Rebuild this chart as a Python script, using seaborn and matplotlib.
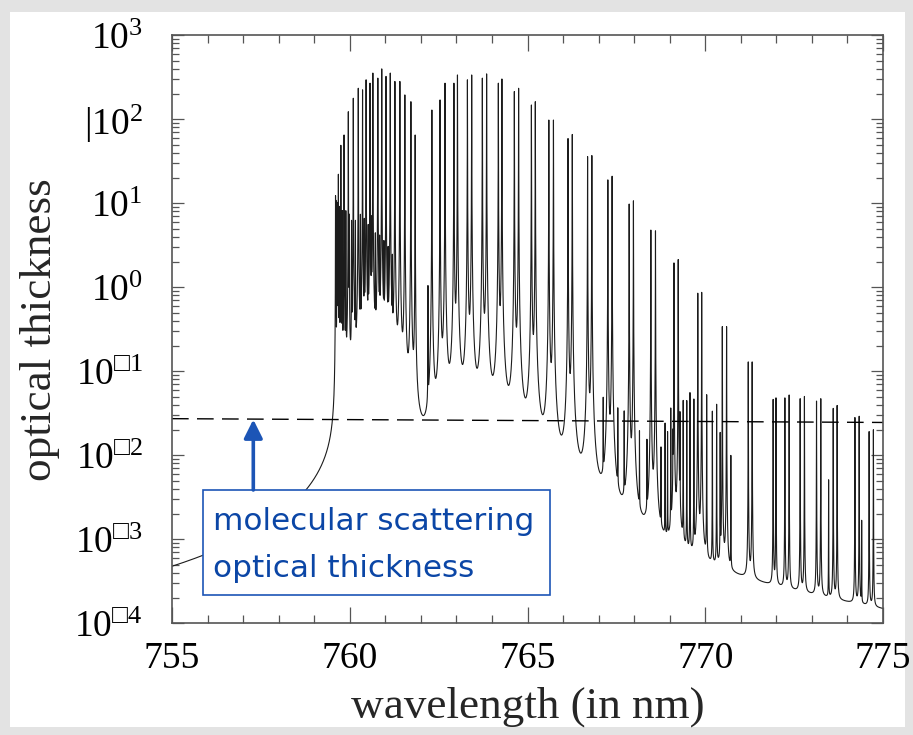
import numpy as np
import matplotlib
matplotlib.use("Agg")
import matplotlib.pyplot as plt
import seaborn as sns
from matplotlib.patches import Rectangle
from matplotlib.ticker import FixedLocator, MultipleLocator, LogLocator, NullFormatter

# ---------------- data ----------------
# O2 A-band: R branch (strong lines)
r_branch_nm = [759.61, 759.68, 759.75, 759.84, 759.96, 760.10, 760.24, 760.36, 760.46, 760.57,
               760.65, 760.79, 760.90, 761.02, 761.14, 761.27, 761.41, 761.55, 761.72, 761.84]
r_branch_peak = [10.5, 22, 49, 65, 123, 178, 234, 224, 295, 269,
                 355, 309, 398, 324, 355, 282, 282, 195, 162, 65]
# weaker lines folding back from the band head
head_nm = [759.60, 759.64, 759.66, 759.71, 759.79, 759.89, 759.99, 760.05, 760.16, 760.30,
           760.41, 760.52, 760.61, 760.72, 760.84, 760.96, 761.08, 761.20]
head_peak = [12, 9, 10, 9, 8, 8, 7, 6, 6, 7, 6, 5, 6, 4, 3.5, 3, 2.5, 2]
# P branch (pairs)
p_branch_nm = [762.20, 762.31, 762.54, 762.68, 762.93, 763.03, 763.31, 763.43, 763.73, 763.85,
               764.18, 764.28, 764.63, 764.75, 765.11, 765.22, 765.60, 765.73, 766.14, 766.26,
               766.69, 766.81, 767.26, 767.38, 767.86, 767.98, 768.47, 768.60, 769.12, 769.24,
               769.79, 769.90, 770.48, 770.60, 771.21, 771.32, 771.91, 771.99]
p_branch_peak = [1.0, 129, 170, 269, 269, 337, 295, 337, 309, 347,
                 269, 302, 214, 234, 148, 162, 98, 98, 59, 66,
                 36, 37, 19, 21, 9.8, 10.7, 4.8, 4.7, 1.95, 2.14,
                 0.85, 0.87, 0.34, 0.34, 0.129, 0.129, 0.046, 0.048]
# weak lines (isotopic / secondary band)
weak_nm = [767.13, 767.54, 767.72, 768.15, 768.36, 768.755, 768.87, 768.94, 769.03, 769.09,
           769.29, 769.38, 769.48, 769.57, 769.68, 770.04, 770.20, 770.32, 770.42, 770.72,
           772.24, 772.36, 772.67, 772.79, 773.13, 773.25, 773.47, 773.60, 773.71,
           774.21, 774.33, 774.40, 774.61, 774.73]
weak_peak = [0.042, 0.032, 0.030, 0.017, 0.013, 0.011, 0.023, 0.018, 0.035, 0.014,
             0.030, 0.044, 0.044, 0.055, 0.046, 0.052, 0.033, 0.040, 0.018, 0.0095,
             0.048, 0.052, 0.047, 0.050, 0.044, 0.047, 0.0049, 0.036, 0.039,
             0.028, 0.029, 0.0015, 0.019, 0.020]

# molecular (Rayleigh) scattering optical thickness
rayleigh_nm = [755.0, 775.0]
rayleigh_tau = [0.0273, 0.0246]

x_ticks = [755, 760, 765, 770, 775]
y_ticks = [1e-4, 1e-3, 1e-2, 1e-1, 1e0, 1e1, 1e2, 1e3]
y_ticklabels = ["$10^{\u25a14}$", "$10^{\u25a13}$", "$10^{\u25a12}$", "$10^{\u25a11}$",
                "$10^{0}$", "$10^{1}$", "$|10^{2}$", "$10^{3}$"]
annotation_lines = ["molecular scattering", "optical thickness"]

# ---------------- style ----------------
HALF_WIDTH = 0.0016   # Lorentz half width of the drawn lines (nm)
BLUE_EDGE = "#1c55b6"
BLUE_TEXT = "#0b46a6"

sns.set_theme(style="ticks")
plt.rcParams["font.family"] = ["Liberation Serif", "DejaVu Serif"]
plt.rcParams["mathtext.fontset"] = "custom"
plt.rcParams["mathtext.rm"] = "Liberation Serif"
plt.rcParams["mathtext.it"] = "Liberation Serif:italic"
plt.rcParams["mathtext.bf"] = "Liberation Serif:bold"

W, H = 913, 735
fig = plt.figure(figsize=(W / 100, H / 100), dpi=100, facecolor="#e3e3e3")
bg = Rectangle((10 / W, 8 / H), (905 - 10) / W, (723 - 8) / H,
               transform=fig.transFigure, facecolor="white", edgecolor="none", zorder=-10)
fig.add_artist(bg)
ax = fig.add_axes([172 / W, 1 - 623.3 / H, (883 - 172) / W, (623.3 - 35.3) / H])
ax.set_facecolor("white")

# spectrum built from the line list
lines_nm = np.array(r_branch_nm + head_nm + p_branch_nm + weak_nm)
lines_pk = np.array(r_branch_peak + head_peak + p_branch_peak + weak_peak)
wl = np.union1d(np.arange(755.0, 775.0001, 0.0004), lines_nm)
tau = np.zeros_like(wl)
for c, a in zip(lines_nm, lines_pk):
    tau += a * HALF_WIDTH ** 2 / ((wl - c) ** 2 + HALF_WIDTH ** 2)

sns.lineplot(x=wl, y=tau, ax=ax, color="#1c1c1c", linewidth=0.8, estimator=None, sort=False)
sns.lineplot(x=rayleigh_nm, y=rayleigh_tau, ax=ax, color="black", linewidth=1.0,
             estimator=None)
ax.lines[-1].set_linestyle((0, (12, 6)))

ax.set_yscale("log")
ax.set_xlim(755, 775)
ax.set_ylim(1e-4, 1e3)

ax.xaxis.set_major_locator(FixedLocator(x_ticks))
ax.xaxis.set_minor_locator(MultipleLocator(1))
ax.set_xticklabels([str(t) for t in x_ticks])
ax.yaxis.set_major_locator(FixedLocator(y_ticks))
ax.yaxis.set_minor_locator(LogLocator(base=10, subs=np.arange(2, 10), numticks=20))
ax.yaxis.set_minor_formatter(NullFormatter())
ax.set_yticklabels(y_ticklabels)

spine_c = "#555555"
for s in ax.spines.values():
    s.set_color(spine_c)
    s.set_linewidth(1.2)
ax.tick_params(which="both", direction="in", top=True, right=True, color=spine_c,
               labelcolor="black", labelsize=27, width=0.9)
ax.tick_params(axis="x", which="major", length=11.5, pad=13)
ax.tick_params(axis="x", which="minor", length=5.8)
ax.tick_params(axis="y", which="major", length=8.6, pad=21)
ax.tick_params(axis="y", which="minor", length=5)

ax.set_xlabel("wavelength (in nm)", fontsize=32.5)
ax.set_ylabel("optical thickness", fontsize=32.5)
ax.xaxis.set_label_coords(0.5, (623.3 - 687) / 588)
ax.yaxis.set_label_coords((60 - 172) / 711, 0.5)

# annotation box
bx0, bx1 = (202.7 - 172) / 711, (550 - 172) / 711
by0, by1 = (623.3 - 595) / 588, (623.3 - 490) / 588
ax.add_patch(Rectangle((bx0, by0), bx1 - bx0, by1 - by0, transform=ax.transAxes,
                       facecolor="white", edgecolor=BLUE_EDGE, linewidth=1.2, zorder=5))
ax.text((212.7 - 172) / 711, (623.3 - 530) / 588, annotation_lines[0], transform=ax.transAxes,
        family="DejaVu Sans", fontsize=22.4, color=BLUE_TEXT, va="baseline", ha="left", zorder=6)
ax.text((212.7 - 172) / 711, (623.3 - 576.7) / 588, annotation_lines[1], transform=ax.transAxes,
        family="DejaVu Sans", fontsize=22.4, color=BLUE_TEXT, va="baseline", ha="left", zorder=6)
ax_x = (253.3 - 172) / 711
ax.annotate("", xy=(ax_x, (623.3 - 419.5) / 588), xytext=(ax_x, by1),
            xycoords="axes fraction", textcoords="axes fraction",
            arrowprops=dict(arrowstyle="-|>", color=BLUE_EDGE, lw=2.6, mutation_scale=28,
                            shrinkA=0, shrinkB=0), zorder=6)

fig.savefig("out.png", dpi=100, facecolor=fig.get_facecolor())
